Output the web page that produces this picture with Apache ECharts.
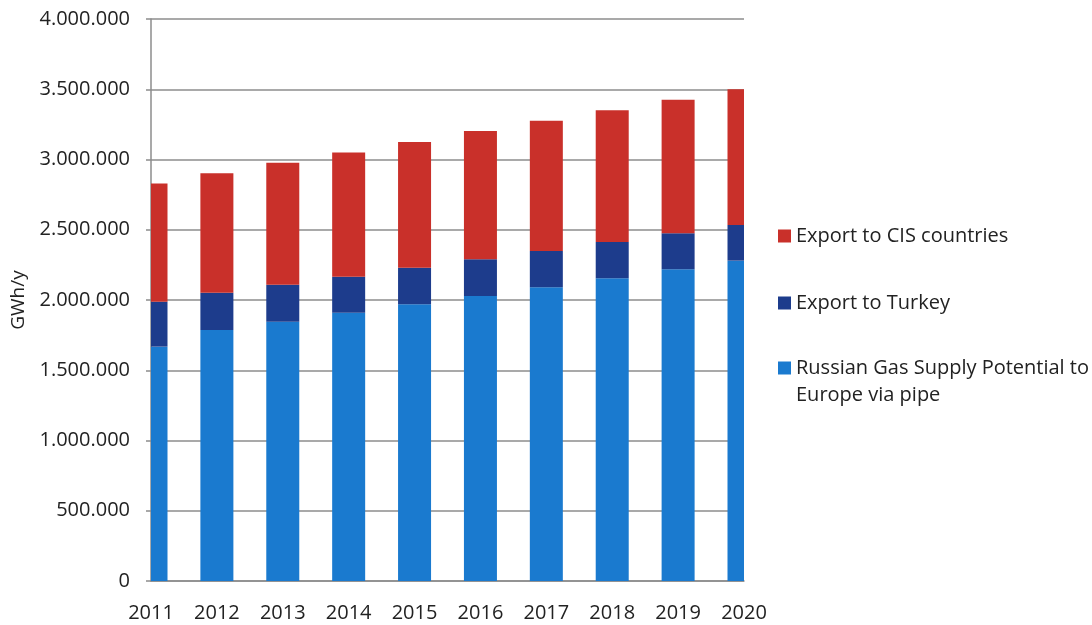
<!DOCTYPE html>
<html>
<head>
<meta charset="utf-8">
<script src="https://cdn.jsdelivr.net/npm/echarts@6/dist/echarts.min.js"></script>
<style>
  html, body { margin: 0; padding: 0; background: #ffffff; }
  #chart { width: 1092px; height: 625px; }
</style>
</head>
<body>
<div id="chart"></div>
<script>
// Years on the category axis
const years = ['2011', '2012', '2013', '2014', '2015', '2016', '2017', '2018', '2019', '2020'];

// Stacked segments, GWh/y (bottom to top)
const supplyEurope = [1668000, 1786000, 1846000, 1910000, 1969000, 2028000, 2090000, 2154000, 2218000, 2280000];
const exportTurkey = [320000, 266000, 263000, 256000, 261000, 262000, 259000, 259000, 257000, 254000];
const exportCIS = [842000, 850000, 868000, 883000, 895000, 913000, 927000, 937000, 951000, 966000];

// Series names as shown in the legend
const nameCIS = 'Export to CIS countries';
const nameTurkey = 'Export to Turkey';
const nameEurope = 'Russian Gas Supply Potential to\nEurope via pipe';

const FONT = '"Open Sans", "Noto Sans", sans-serif';
const TEXT = '#222222';
const GRID = '#8c8c8c';
const BAR_WIDTH = 33;

// Thousands separated with dots
function fmt(v) {
  return String(Math.round(v)).replace(/\B(?=(\d{3})+(?!\d))/g, '.');
}

// [categoryIndex, segmentValue, stackBase] rows for one stacked layer
function stackRows(values, below) {
  return values.map((v, i) => {
    let base = 0;
    below.forEach(arr => { base += arr[i]; });
    return [i, v, base];
  });
}

// Bars sit on the tick positions; the outer two are cut by the plot edges
function renderBar(params, api) {
  const idx = api.value(0);
  const v = api.value(1);
  const base = api.value(2);
  const top = api.coord([idx, base + v]);
  const bottom = api.coord([idx, base]);
  const rect = {
    x: top[0] - BAR_WIDTH / 2,
    y: top[1],
    width: BAR_WIDTH,
    height: bottom[1] - top[1]
  };
  const cs = params.coordSys;
  const clipped = echarts.graphic.clipRectByRect(rect, {
    x: cs.x, y: cs.y, width: cs.width, height: cs.height
  });
  if (!clipped) return null;
  return { type: 'rect', shape: clipped, style: api.style() };
}

function legendFor(name, top, extra) {
  return Object.assign({
    orient: 'vertical',
    left: 778,
    top: top,
    padding: 0,
    itemWidth: 13,
    itemHeight: 13,
    icon: 'rect',
    selectedMode: false,
    data: [name],
    textStyle: { fontFamily: FONT, fontSize: 20, color: TEXT, lineHeight: 27 }
  }, extra || {});
}

const chart = echarts.init(document.getElementById('chart'), null, { renderer: 'canvas' });

chart.setOption({
  animation: false,
  backgroundColor: '#ffffff',
  grid: { left: 151, right: 348, top: 19, bottom: 44, containLabel: false },
  legend: [
    legendFor(nameCIS, 222.5),
    legendFor(nameTurkey, 289.5),
    // leading blank line keeps the first text line level with the swatch
    legendFor(nameEurope, 327.5, { formatter: n => '\n' + n })
  ],
  xAxis: {
    type: 'category',
    data: years,
    boundaryGap: false,
    axisLine: { show: true, lineStyle: { color: GRID, width: 1.5 } },
    axisTick: { show: false },
    axisLabel: { fontFamily: FONT, fontSize: 20, color: TEXT, margin: 22 }
  },
  yAxis: {
    type: 'value',
    min: 0,
    max: 4000000,
    interval: 500000,
    name: 'GWh/y',
    nameLocation: 'middle',
    nameGap: 122,
    nameTextStyle: { fontFamily: FONT, fontSize: 19, color: TEXT },
    axisLine: { show: true, lineStyle: { color: GRID, width: 1.5 } },
    axisTick: { show: true, length: 5, lineStyle: { color: GRID, width: 1.5 } },
    axisLabel: { fontFamily: FONT, fontSize: 20, color: TEXT, margin: 21, formatter: fmt },
    splitLine: { show: true, lineStyle: { color: GRID, width: 1.5 } }
  },
  series: [
    {
      name: nameEurope,
      type: 'custom',
      renderItem: renderBar,
      encode: { x: 0, y: [1, 2] },
      itemStyle: { color: '#1a7acf' },
      data: stackRows(supplyEurope, [])
    },
    {
      name: nameTurkey,
      type: 'custom',
      renderItem: renderBar,
      encode: { x: 0, y: [1, 2] },
      itemStyle: { color: '#1d3c8c' },
      data: stackRows(exportTurkey, [supplyEurope])
    },
    {
      name: nameCIS,
      type: 'custom',
      renderItem: renderBar,
      encode: { x: 0, y: [1, 2] },
      itemStyle: { color: '#c9302a' },
      data: stackRows(exportCIS, [supplyEurope, exportTurkey])
    }
  ]
});
</script>
</body>
</html>
